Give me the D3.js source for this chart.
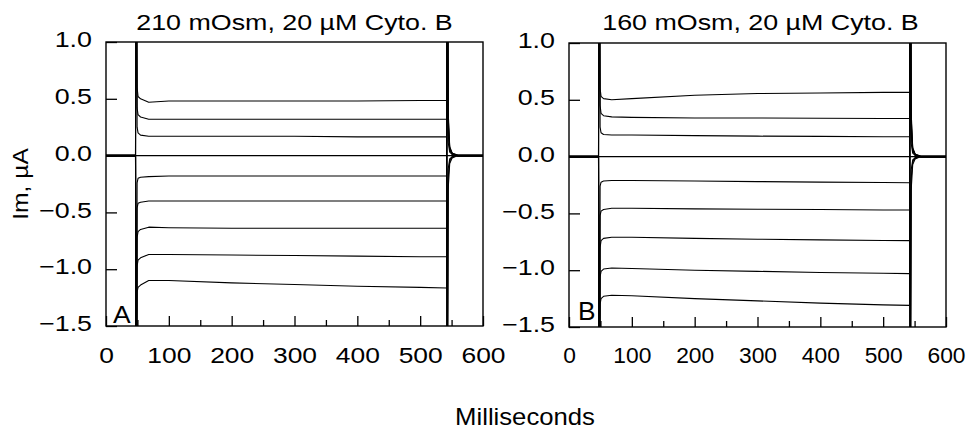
<!DOCTYPE html>
<html><head><meta charset="utf-8">
<script src="https://cdn.jsdelivr.net/npm/d3@7"></script>
<style>
body{margin:0;background:#fff}
svg text{font-family:"Liberation Sans",Arial,Helvetica,sans-serif;fill:#000}
</style></head>
<body><svg id="chart" width="967" height="432"></svg>
<script>
// ---- data (ms, µA) ----
const times = [0, 47, 48, 49.5, 51, 55, 68, 100, 200, 300, 400, 500, 542, 543, 544.5, 547, 551, 560, 600];

const titleA = "210 mOsm, 20 \u00B5M Cyto. B";
const titleB = "160 mOsm, 20 \u00B5M Cyto. B";
const panelLabels = ["A", "B"];
const xTickLabels = [0, 100, 200, 300, 400, 500, 600];
const xMinorTicks = [50, 150, 250, 350, 450, 550];
const yTickLabels = [-1.5, -1.0, -0.5, 0.0, 0.5, 1.0];
const xTitle = "Milliseconds";
const yTitle = "Im, \u00B5A";

const tracesA = [
  [0, 0, 3, 0.60, 0.52, 0.50, 0.47, 0.48, 0.48, 0.48, 0.48, 0.485, 0.485, -3, -0.30, -0.07, -0.02, 0, 0],
  [0, 0, 3, 0.42, 0.36, 0.34, 0.32, 0.32, 0.32, 0.32, 0.32, 0.32, 0.32, -3, -0.20, -0.05, -0.01, 0, 0],
  [0.005, 0.005, 3, 0.25, 0.20, 0.18, 0.17, 0.17, 0.17, 0.17, 0.165, 0.165, 0.165, -3, -0.12, -0.03, -0.01, 0.005, 0.005],
  [0, 0, 0, 0, 0, 0, 0, 0, 0, 0, 0, 0, 0, 0, 0, 0, 0, 0, 0],
  [-0.005, -0.005, -3, -0.24, -0.20, -0.19, -0.185, -0.18, -0.18, -0.18, -0.18, -0.18, -0.18, 3, 0.12, 0.03, 0.01, -0.005, -0.005],
  [0, 0, -3, -0.46, -0.42, -0.41, -0.40, -0.40, -0.40, -0.40, -0.40, -0.40, -0.40, 3, 0.20, 0.05, 0.01, 0, 0],
  [0.005, 0.005, -3, -0.72, -0.67, -0.65, -0.63, -0.635, -0.64, -0.64, -0.64, -0.64, -0.64, 3, 0.30, 0.06, 0.02, 0.005, 0.005],
  [0, 0, -3, -0.97, -0.92, -0.90, -0.87, -0.87, -0.875, -0.88, -0.885, -0.89, -0.89, 3, 0.35, 0.07, 0.02, 0, 0],
  [-0.005, -0.005, -3, -1.20, -1.16, -1.14, -1.10, -1.10, -1.12, -1.135, -1.15, -1.16, -1.165, 3, 0.40, 0.08, 0.02, -0.005, -0.005]
];

const tracesB = [
  [0, 0, 3, 0.60, 0.53, 0.51, 0.50, 0.51, 0.54, 0.555, 0.56, 0.565, 0.565, -3, -0.30, -0.07, -0.02, 0, 0],
  [0, 0, 3, 0.45, 0.38, 0.36, 0.35, 0.345, 0.34, 0.34, 0.338, 0.335, 0.335, -3, -0.20, -0.05, -0.01, 0, 0],
  [0.005, 0.005, 3, 0.26, 0.21, 0.195, 0.19, 0.19, 0.185, 0.18, 0.178, 0.175, 0.175, -3, -0.12, -0.03, -0.01, 0.005, 0.005],
  [0, 0, 0, 0, 0, 0, 0, 0, 0, 0, 0, 0, 0, 0, 0, 0, 0, 0, 0],
  [-0.005, -0.005, -3, -0.26, -0.225, -0.215, -0.21, -0.21, -0.215, -0.22, -0.225, -0.228, -0.23, 3, 0.12, 0.03, 0.01, -0.005, -0.005],
  [0, 0, -3, -0.52, -0.48, -0.465, -0.455, -0.455, -0.46, -0.463, -0.466, -0.47, -0.47, 3, 0.20, 0.05, 0.01, 0, 0],
  [0.005, 0.005, -3, -0.80, -0.74, -0.72, -0.71, -0.71, -0.72, -0.727, -0.733, -0.738, -0.74, 3, 0.30, 0.06, 0.02, 0.005, 0.005],
  [0, 0, -3, -1.06, -1.01, -0.99, -0.98, -0.985, -1.00, -1.01, -1.02, -1.027, -1.03, 3, 0.35, 0.07, 0.02, 0, 0],
  [-0.005, -0.005, -3, -1.30, -1.25, -1.23, -1.22, -1.225, -1.25, -1.27, -1.29, -1.305, -1.31, 3, 0.40, 0.08, 0.02, -0.005, -0.005]
];

// ---- drawing ----
const svg = d3.select("#chart");
const SX = 1.22; // horizontal stretch of the original lettering

function drawPanel(cfg) {
  const x = d3.scaleLinear().domain([0, 600]).range([cfg.x0, cfg.x1]);
  const y = d3.scaleLinear().domain([-1.5, 1.0]).range([cfg.y1, cfg.y0]);
  const g = svg.append("g");

  const clipId = "clip" + cfg.label;
  svg.append("defs").append("clipPath").attr("id", clipId)
    .append("rect").attr("x", cfg.x0).attr("y", cfg.y0)
    .attr("width", cfg.x1 - cfg.x0).attr("height", cfg.y1 - cfg.y0);

  const line = d3.line().x((d, i) => x(times[i])).y(d => y(d));
  g.append("g").attr("clip-path", `url(#${clipId})`)
    .selectAll("path").data(cfg.traces).join("path")
    .attr("d", d => line(d))
    .attr("fill", "none").attr("stroke", "#000").attr("stroke-width", 1.1)
    .attr("stroke-linejoin", "round");

  // x axis (ticks inward)
  const xAxis = g.append("g").attr("transform", `translate(0,${cfg.y1})`)
    .call(d3.axisBottom(x).tickValues(xTickLabels).tickSizeInner(-10).tickSizeOuter(0).tickPadding(21).tickFormat(d3.format("d")));
  g.append("g").attr("transform", `translate(0,${cfg.y1})`)
    .call(d3.axisBottom(x).tickValues(xMinorTicks).tickSizeInner(-6).tickSizeOuter(0).tickFormat(""))
    .call(s => s.select(".domain").remove());

  // y axis (ticks inward)
  const yAxis = g.append("g").attr("transform", `translate(${cfg.x0},0)`)
    .call(d3.axisLeft(y).tickValues(yTickLabels).tickSizeInner(-11).tickSizeOuter(0).tickFormat(d3.format(".1f")));

  [xAxis, yAxis].forEach(a => {
    a.select(".domain").remove();
    a.selectAll("line").attr("stroke", "#000").attr("stroke-width", 1.3);
    a.selectAll("text").attr("font-size", 22).attr("fill", "#000")
      .attr("font-family", '"Liberation Sans", Arial, sans-serif');
  });
  xAxis.selectAll("text").attr("font-size", cfg.xfs).attr("transform", `scale(${cfg.xsx},1)`);
  yAxis.selectAll("text").attr("x", 0).attr("dy", "0.21em")
    .attr("transform", `translate(-14,0) scale(${SX},1)`);
  g.selectAll(".tick line").attr("stroke", "#000").attr("stroke-width", 1.3);

  // frame
  g.append("rect").attr("x", cfg.x0).attr("y", cfg.y0)
    .attr("width", cfg.x1 - cfg.x0).attr("height", cfg.y1 - cfg.y0)
    .attr("fill", "none").attr("stroke", "#000").attr("stroke-width", 1.4);

  // title
  g.append("text").attr("text-anchor", "middle").attr("font-size", 22)
    .attr("transform", `translate(${(cfg.x0 + cfg.x1) / 2 + cfg.tdx},30) scale(${SX},1)`)
    .text(cfg.title);

  // panel letter
  g.append("text").attr("font-size", cfg.lsize)
    .attr("transform", `translate(${cfg.x0 + cfg.ldx},${cfg.lby}) scale(${cfg.lsx},1)`)
    .text(cfg.label);
}

drawPanel({x0: 106, x1: 483, y0: 42, y1: 326, traces: tracesA, title: titleA, label: panelLabels[0], tdx: 0,
           lsize: 23, lsx: 1.15, ldx: 7, lby: 323, xfs: 22, xsx: 1.2});
drawPanel({x0: 569, x1: 946, y0: 43, y1: 327, traces: tracesB, title: titleB, label: panelLabels[1], tdx: 3,
           lsize: 25, lsx: 1.05, ldx: 9, lby: 320, xfs: 21.5, xsx: 1.06});

// axis titles
svg.append("text").attr("text-anchor", "middle").attr("font-size", 24)
  .attr("transform", `translate(525,425) scale(1.07,1)`).text(xTitle);
svg.append("text").attr("text-anchor", "middle").attr("font-size", 22)
  .attr("transform", `translate(28,184) rotate(-90) scale(1.12,1)`).text(yTitle);
</script></body></html>
